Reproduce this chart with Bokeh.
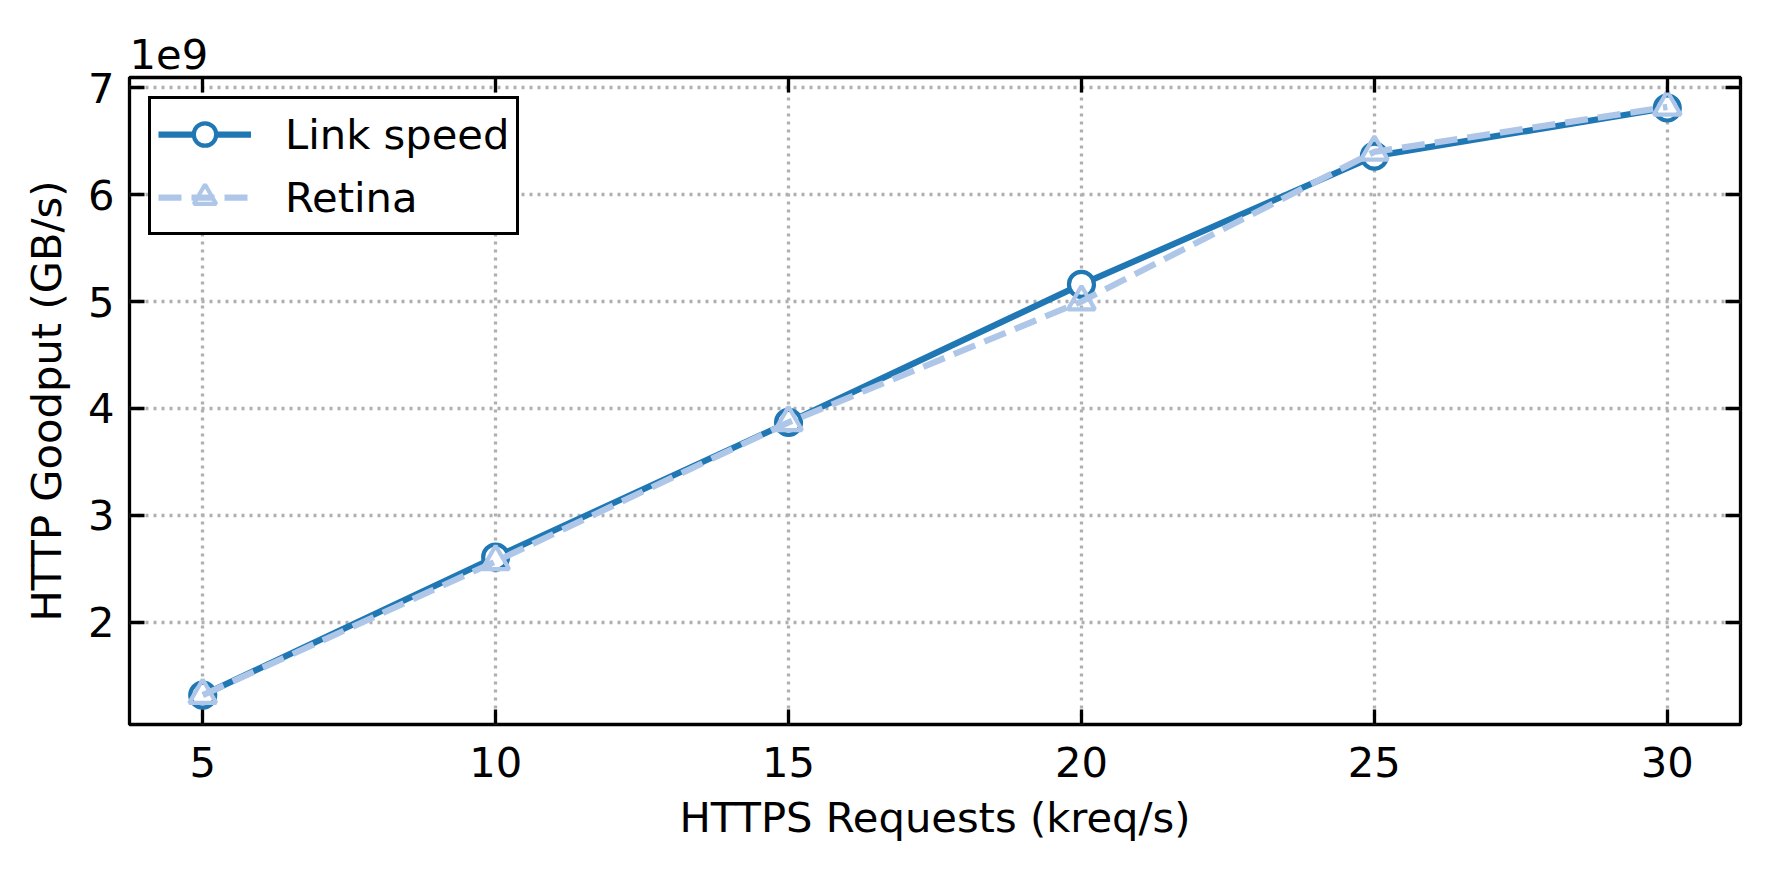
from bokeh.plotting import figure
from bokeh.models import (LinearAxis, FixedTicker, CustomJSTickFormatter,
                          Legend, LegendItem, Range1d)
from bokeh.embed import file_html
from bokeh.resources import INLINE

# ---- data ----
requests_k = [5, 10, 15, 20, 25, 30]
link_speed = [1.32e9, 2.61e9, 3.87e9, 5.16e9, 6.36e9, 6.81e9]
retina = [1.32e9, 2.57e9, 3.87e9, 5.00e9, 6.40e9, 6.82e9]
x_ticks = [5, 10, 15, 20, 25, 30]
y_ticks = [2e9, 3e9, 4e9, 5e9, 6e9, 7e9]
series_names = ["Link speed", "Retina"]
x_label = "HTTPS Requests (kreq/s)"
y_label = "HTTP Goodput (GB/s)"
offset_text = "1e9"

C_LINK = "#1f77b4"
C_RET = "#aec7e8"
FONT = "DejaVu Sans"
FS = "41.67px"

# matplotlib-like 5% margins
xlo, xhi = min(requests_k), max(requests_k)
xm = (xhi - xlo) * 0.05
all_y = link_speed + retina
ylo, yhi = min(all_y), max(all_y)
ym = (yhi - ylo) * 0.05

p = figure(width=1770, height=870, output_backend="svg", toolbar_location=None,
           x_range=Range1d(xlo - xm, xhi + xm), y_range=Range1d(ylo - ym, yhi + ym),
           min_border_left=129, min_border_right=30, min_border_top=77,
           min_border_bottom=146, background_fill_color="white",
           border_fill_color="white")

p.outline_line_color = "black"
p.outline_line_width = 3.3

bottom_ax = p.below[0]
left_ax = p.left[0]

xt = FixedTicker(ticks=x_ticks)
yt = FixedTicker(ticks=y_ticks)
yfmt = CustomJSTickFormatter(code="return (tick/1e9).toFixed(0);")

top_ax = LinearAxis(ticker=xt)
right_ax = LinearAxis(ticker=yt)
p.add_layout(top_ax, "above")
p.add_layout(right_ax, "right")

for ax in [bottom_ax, left_ax, top_ax, right_ax]:
    ax.axis_line_color = None
    ax.major_tick_in = 15
    ax.major_tick_out = 0
    ax.major_tick_line_width = 3.3
    ax.major_tick_line_color = "black"
    ax.minor_tick_line_color = None
    ax.major_label_text_font = FONT
    ax.major_label_text_font_size = FS
    ax.major_label_text_color = "black"
    ax.axis_label_text_font = FONT
    ax.axis_label_text_font_size = FS
    ax.axis_label_text_font_style = "normal"
    ax.axis_label_text_color = "black"

for ax in [top_ax, right_ax]:
    ax.major_label_text_font_size = "1px"
    ax.major_label_text_color = None
    ax.major_label_standoff = 0

bottom_ax.ticker = xt
left_ax.ticker = yt
left_ax.formatter = yfmt
bottom_ax.axis_label = x_label
left_ax.axis_label = y_label
bottom_ax.major_label_standoff = 22
bottom_ax.axis_label_standoff = 13
left_ax.major_label_standoff = 15
left_ax.axis_label_standoff = 14

p.xgrid.ticker = xt
p.ygrid.ticker = yt
for g in [p.xgrid, p.ygrid]:
    g.grid_line_color = "#b0b0b0"
    g.grid_line_width = 3.3
    g.grid_line_dash = "3 5"

p.title.text = offset_text
p.title.text_font = FONT
p.title.text_font_size = FS
p.title.text_font_style = "normal"
p.title.text_color = "black"
p.title.align = "left"
p.title.vertical_align = "top"
p.title.standoff = 14

l1 = p.line(requests_k, link_speed, line_color=C_LINK, line_width=6.25)
c1 = p.scatter(requests_k, link_speed, marker="circle", size=25, line_color=C_LINK,
               line_width=4.2, fill_color="white")
l2 = p.line(requests_k, retina, line_color=C_RET, line_width=6.25, line_dash="23 10")
c2 = p.scatter(requests_k, retina, marker="triangle", size=27, line_color=C_RET,
               line_width=4.2, fill_color=None)

legend = Legend(items=[LegendItem(label=series_names[0], renderers=[l1, c1]),
                       LegendItem(label=series_names[1], renderers=[l2, c2])],
                location="top_left", margin=19, padding=7, spacing=7,
                glyph_height=56, glyph_width=93, label_standoff=34,
                label_text_font=FONT, label_text_font_size=FS,
                label_text_color="black",
                border_line_color="black", border_line_width=3.3,
                border_line_alpha=1.0,
                background_fill_color="white", background_fill_alpha=1.0)
p.add_layout(legend, "center")

open("out.html", "w").write(file_html(p, INLINE))
